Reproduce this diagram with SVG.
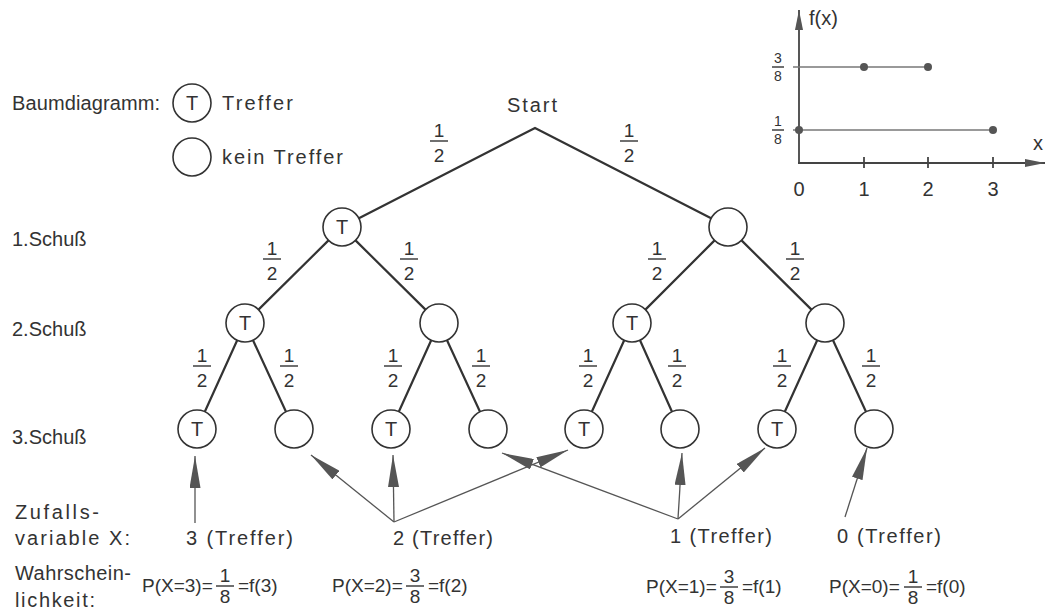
<svg xmlns="http://www.w3.org/2000/svg" width="1046" height="612" viewBox="0 0 1046 612">
<style>
.t{font-family:"Liberation Sans",Arial,sans-serif;font-size:20px;fill:#333}
.p{font-family:"Liberation Sans",Arial,sans-serif;font-size:19px;fill:#333}
.fr{font-family:"Liberation Sans",Arial,sans-serif;font-size:19px;fill:#333;text-anchor:middle}
.sm{font-family:"Liberation Sans",Arial,sans-serif;font-size:14px;fill:#333;text-anchor:middle}
.mid{text-anchor:middle}
.node{fill:#fff;stroke:#333;stroke-width:1.6}
.edge{stroke:#333;stroke-width:2.2;fill:none;stroke-linecap:round}
.bar{stroke:#333;stroke-width:1.4}
.arr{stroke:#555;stroke-width:1.3;fill:none;marker-end:url(#ah)}
.ax{stroke:#444;stroke-width:1.8;fill:none}
.gl{stroke:#777;stroke-width:1.3}
.dot{fill:#555}
</style>
<defs>
<marker id="ah" viewBox="0 0 32 11" refX="32" refY="5.5" markerWidth="32" markerHeight="11" markerUnits="userSpaceOnUse" orient="auto">
<path d="M0,0 L32,5.5 L0,11 z" fill="#555"/>
</marker>
<marker id="axh" viewBox="0 0 20 8" refX="20" refY="4" markerWidth="20" markerHeight="8" markerUnits="userSpaceOnUse" orient="auto">
<path d="M0,0 L20,4 L0,8 z" fill="#555"/>
</marker>
</defs>

<g id="legend">
<text class="t" x="12" y="110" textLength="148">Baumdiagramm:</text>
<circle class="node" cx="192" cy="103" r="19"/>
<text class="t mid" x="192" y="110">T</text>
<text class="t" x="222" y="110" textLength="71">Treffer</text>
<circle class="node" cx="192" cy="157" r="19"/>
<text class="t" x="222" y="164" textLength="121">kein Treffer</text>
</g>

<g id="row-labels">
<text class="t" x="12" y="246">1.Schuß</text>
<text class="t" x="12" y="336">2.Schuß</text>
<text class="t" x="12" y="444">3.Schuß</text>
</g>

<g id="start">
<text class="t" x="507" y="112" textLength="50">Start</text>
</g>

<g id="connectors">
<path class="edge" d="M358.9,218.3 L535,128 L711.1,218.3"/>
<line class="edge" x1="328.5" y1="240.4" x2="258.5" y2="309.6"/>
<line class="edge" x1="355.5" y1="240.4" x2="425.5" y2="309.6"/>
<line class="edge" x1="714.6" y1="240.4" x2="645.4" y2="309.6"/>
<line class="edge" x1="741.5" y1="240.4" x2="811.5" y2="309.6"/>
<line class="edge" x1="237.2" y1="340.3" x2="204.8" y2="411.7"/>
<line class="edge" x1="253" y1="340.3" x2="286" y2="411.7"/>
<line class="edge" x1="431.2" y1="340.3" x2="398.8" y2="411.7"/>
<line class="edge" x1="447" y1="340.3" x2="480" y2="411.7"/>
<line class="edge" x1="624.2" y1="340.3" x2="591.8" y2="411.7"/>
<line class="edge" x1="640" y1="340.3" x2="672" y2="411.7"/>
<line class="edge" x1="817.2" y1="340.3" x2="784.8" y2="411.7"/>
<line class="edge" x1="833" y1="340.3" x2="866" y2="411.7"/>
<line class="arr" x1="195" y1="523" x2="195" y2="456"/>
<line class="arr" x1="394" y1="522" x2="311" y2="455"/>
<line class="arr" x1="394" y1="522" x2="393" y2="455"/>
<line class="arr" x1="394" y1="522" x2="568" y2="450"/>
<line class="arr" x1="678" y1="519" x2="502" y2="453"/>
<line class="arr" x1="678" y1="519" x2="682" y2="453"/>
<line class="arr" x1="678" y1="519" x2="765" y2="448"/>
<line class="arr" x1="845" y1="517" x2="867" y2="448"/>
</g>

<g id="probs">
<text class="fr" x="439" y="137">1</text><line class="bar" x1="430" y1="141" x2="448" y2="141"/><text class="fr" x="439" y="162">2</text>
<text class="fr" x="629" y="137">1</text><line class="bar" x1="620" y1="141" x2="638" y2="141"/><text class="fr" x="629" y="162">2</text>
<text class="fr" x="272" y="255">1</text><line class="bar" x1="263" y1="259" x2="281" y2="259"/><text class="fr" x="272" y="280">2</text>
<text class="fr" x="409" y="255">1</text><line class="bar" x1="400" y1="259" x2="418" y2="259"/><text class="fr" x="409" y="280">2</text>
<text class="fr" x="657" y="255">1</text><line class="bar" x1="648" y1="259" x2="666" y2="259"/><text class="fr" x="657" y="280">2</text>
<text class="fr" x="795" y="255">1</text><line class="bar" x1="786" y1="259" x2="804" y2="259"/><text class="fr" x="795" y="280">2</text>
<text class="fr" x="202" y="362">1</text><line class="bar" x1="193" y1="366" x2="211" y2="366"/><text class="fr" x="202" y="387">2</text>
<text class="fr" x="289" y="362">1</text><line class="bar" x1="280" y1="366" x2="298" y2="366"/><text class="fr" x="289" y="387">2</text>
<text class="fr" x="393" y="362">1</text><line class="bar" x1="384" y1="366" x2="402" y2="366"/><text class="fr" x="393" y="387">2</text>
<text class="fr" x="481" y="362">1</text><line class="bar" x1="472" y1="366" x2="490" y2="366"/><text class="fr" x="481" y="387">2</text>
<text class="fr" x="588" y="362">1</text><line class="bar" x1="579" y1="366" x2="597" y2="366"/><text class="fr" x="588" y="387">2</text>
<text class="fr" x="677" y="362">1</text><line class="bar" x1="668" y1="366" x2="686" y2="366"/><text class="fr" x="677" y="387">2</text>
<text class="fr" x="782" y="362">1</text><line class="bar" x1="773" y1="366" x2="791" y2="366"/><text class="fr" x="782" y="387">2</text>
<text class="fr" x="871" y="362">1</text><line class="bar" x1="862" y1="366" x2="880" y2="366"/><text class="fr" x="871" y="387">2</text>
</g>

<g id="n1T"><circle class="node" cx="342" cy="227" r="19"/><text class="t mid" x="342" y="234">T</text></g>
<g id="n1N"><circle class="node" cx="728" cy="227" r="19"/></g>
<g id="n2TT"><circle class="node" cx="245" cy="323" r="19"/><text class="t mid" x="245" y="330">T</text></g>
<g id="n2TN"><circle class="node" cx="439" cy="323" r="19"/></g>
<g id="n2NT"><circle class="node" cx="632" cy="323" r="19"/><text class="t mid" x="632" y="330">T</text></g>
<g id="n2NN"><circle class="node" cx="825" cy="323" r="19"/></g>
<g id="n3TTT"><circle class="node" cx="197" cy="429" r="19"/><text class="t mid" x="197" y="436">T</text></g>
<g id="n3TTN"><circle class="node" cx="294" cy="429" r="19"/></g>
<g id="n3TNT"><circle class="node" cx="391" cy="429" r="19"/><text class="t mid" x="391" y="436">T</text></g>
<g id="n3TNN"><circle class="node" cx="488" cy="429" r="19"/></g>
<g id="n3NTT"><circle class="node" cx="584" cy="429" r="19"/><text class="t mid" x="584" y="436">T</text></g>
<g id="n3NTN"><circle class="node" cx="680" cy="429" r="19"/></g>
<g id="n3NNT"><circle class="node" cx="777" cy="429" r="19"/><text class="t mid" x="777" y="436">T</text></g>
<g id="n3NNN"><circle class="node" cx="874" cy="429" r="19"/></g>

<g id="variable">
<text class="t" x="15" y="519" textLength="84">Zufalls-</text>
<text class="t" x="15" y="545" textLength="115">variable X:</text>
<text class="t" x="186" y="545" textLength="107">3 (Treffer)</text>
<text class="t" x="393" y="545" textLength="100">2 (Treffer)</text>
<text class="t" x="670" y="543" textLength="102">1 (Treffer)</text>
<text class="t" x="837" y="543" textLength="104">0 (Treffer)</text>
</g>

<g id="probability">
<text class="t" x="15" y="580" textLength="116">Wahrschein-</text>
<text class="t" x="15" y="607" textLength="80">lichkeit:</text>
<text class="p" x="142" y="592">P(X=3)=</text>
<text class="fr" x="225" y="582">1</text><line class="bar" x1="216" y1="586" x2="234" y2="586"/><text class="fr" x="225" y="603">8</text>
<text class="p" x="238" y="592">=f(3)</text>
<text class="p" x="332" y="592">P(X=2)=</text>
<text class="fr" x="415" y="582">3</text><line class="bar" x1="406" y1="586" x2="424" y2="586"/><text class="fr" x="415" y="603">8</text>
<text class="p" x="428" y="592">=f(2)</text>
<text class="p" x="646" y="593">P(X=1)=</text>
<text class="fr" x="729" y="583">3</text><line class="bar" x1="720" y1="587" x2="738" y2="587"/><text class="fr" x="729" y="604">8</text>
<text class="p" x="742" y="593">=f(1)</text>
<text class="p" x="829" y="593">P(X=0)=</text>
<text class="fr" x="913" y="583">1</text><line class="bar" x1="904" y1="587" x2="922" y2="587"/><text class="fr" x="913" y="604">8</text>
<text class="p" x="926" y="593">=f(0)</text>
</g>

<g id="graph">
<line class="ax" x1="799" y1="164" x2="799" y2="10" marker-end="url(#axh)"/>
<line class="ax" x1="798" y1="163" x2="1045" y2="163" marker-end="url(#axh)"/>
<line class="ax" x1="864" y1="157" x2="864" y2="168"/>
<line class="ax" x1="928" y1="157" x2="928" y2="168"/>
<line class="ax" x1="993" y1="157" x2="993" y2="168"/>
<line class="gl" x1="793" y1="67" x2="928" y2="67"/>
<line class="gl" x1="793" y1="130" x2="993" y2="130"/>
<circle class="dot" cx="864" cy="67" r="4"/>
<circle class="dot" cx="928" cy="67" r="4"/>
<circle class="dot" cx="799" cy="130" r="4"/>
<circle class="dot" cx="993" cy="130" r="4"/>
<text class="sm" x="778" y="63">3</text><line class="bar" x1="772" y1="67" x2="784" y2="67"/><text class="sm" x="778" y="81">8</text>
<text class="sm" x="778" y="126">1</text><line class="bar" x1="772" y1="130" x2="784" y2="130"/><text class="sm" x="778" y="144">8</text>
<text class="t" x="809" y="25">f(x)</text>
<text class="t" x="1033" y="150">x</text>
<text class="t mid" x="799" y="196">0</text>
<text class="t mid" x="864" y="196">1</text>
<text class="t mid" x="928" y="196">2</text>
<text class="t mid" x="993" y="196">3</text>
</g>
</svg>
